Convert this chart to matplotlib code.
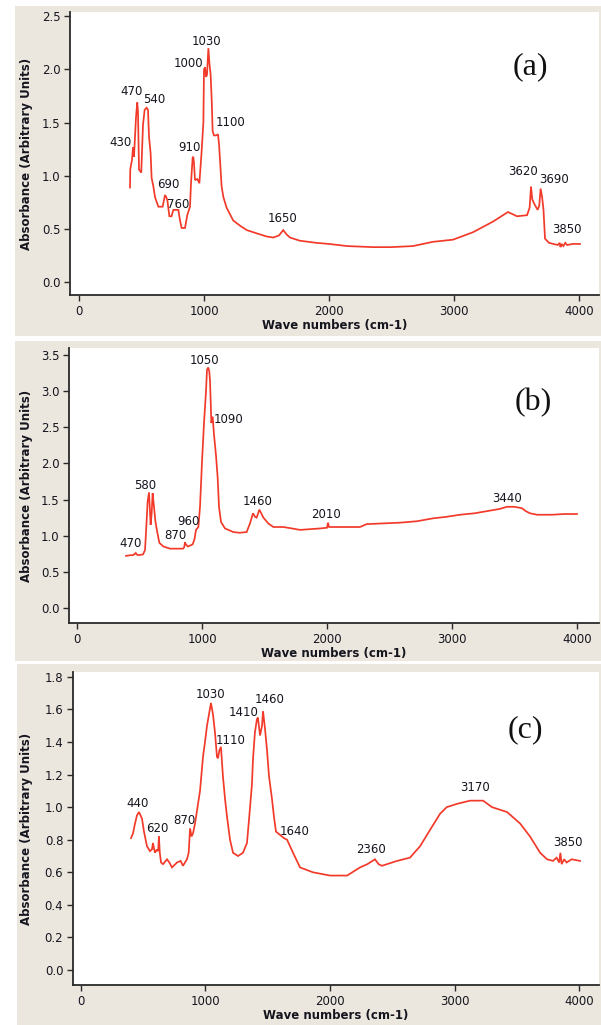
import matplotlib
matplotlib.use("Agg")
import matplotlib.pyplot as plt
from matplotlib.patches import Rectangle

# ---------------- data ----------------
a_wn = [408, 410, 424, 432, 440, 456, 466, 472, 480, 498, 512, 525, 541, 552, 560, 573, 581, 595, 608, 635,
        669, 688, 698, 707, 723, 740, 755, 795, 808, 821, 848, 866, 888, 896, 909, 914, 920, 928, 947, 963,
        981, 995, 1000, 1008, 1016, 1024, 1035, 1044, 1053, 1062, 1069, 1080, 1095, 1112, 1120, 1128, 1141,
        1155, 1181, 1234, 1290, 1342, 1420, 1501, 1554, 1600, 1634, 1660, 1688, 1768, 1900, 2000, 2144, 2352,
        2500, 2672, 2832, 2992, 3152, 3312, 3432, 3504, 3584, 3605, 3616, 3626, 3637, 3650, 3669, 3682, 3693,
        3705, 3716, 3728, 3760, 3795, 3830, 3845, 3852, 3860, 3875, 3890, 3905, 3950, 4008]
a_abs = [0.89, 1.06, 1.15, 1.27, 1.18, 1.55, 1.69, 1.60, 1.06, 1.03, 1.48, 1.62, 1.64, 1.62, 1.37, 1.21, 0.98,
         0.90, 0.80, 0.71, 0.71, 0.82, 0.80, 0.77, 0.62, 0.62, 0.68, 0.68, 0.58, 0.51, 0.51, 0.63, 0.71, 0.93,
         1.17, 1.18, 1.12, 0.96, 0.97, 0.93, 1.23, 1.50, 2.00, 2.02, 1.93, 1.95, 2.20, 2.05, 1.95, 1.70, 1.42,
         1.38, 1.38, 1.39, 1.30, 1.15, 0.90, 0.80, 0.70, 0.58, 0.53, 0.49, 0.46, 0.43, 0.42, 0.44, 0.49, 0.45,
         0.42, 0.39, 0.37, 0.36, 0.34, 0.33, 0.33, 0.34, 0.38, 0.40, 0.47, 0.57, 0.66, 0.62, 0.63, 0.70, 0.90,
         0.78, 0.75, 0.72, 0.68, 0.72, 0.88, 0.80, 0.68, 0.41, 0.37, 0.36, 0.35, 0.37, 0.33, 0.36, 0.34, 0.37,
         0.35, 0.36, 0.36]
a_peaks = ["430", "470", "540", "690", "760", "910", "1000", "1030", "1100", "1650", "3620", "3690", "3850"]
a_lab_x = [328, 424, 600, 712, 792, 880, 872, 1016, 1216, 1632, 3552, 3800, 3904]
a_lab_y = [1.31, 1.79, 1.72, 0.92, 0.73, 1.27, 2.06, 2.26, 1.50, 0.60, 1.04, 0.97, 0.50]

b_wn = [392, 430, 450, 470, 477, 490, 528, 544, 552, 565, 576, 582, 589, 597, 605, 610, 616, 627, 643, 659,
        691, 744, 800, 848, 858, 864, 870, 888, 925, 940, 952, 971, 984, 1000, 1016, 1032, 1040, 1050, 1058,
        1064, 1075, 1085, 1096, 1112, 1125, 1136, 1152, 1184, 1251, 1300, 1357, 1384, 1408, 1425, 1437, 1459,
        1491, 1530, 1571, 1651, 1720, 1784, 1944, 2000, 2008, 2016, 2040, 2150, 2264, 2317, 2450, 2584, 2720,
        2848, 2950, 3064, 3180, 3280, 3380, 3440, 3500, 3560, 3590, 3624, 3680, 3800, 3900, 4000]
b_abs = [0.72, 0.73, 0.73, 0.76, 0.74, 0.73, 0.74, 0.80, 1.04, 1.47, 1.60, 1.40, 1.15, 1.30, 1.59, 1.50, 1.40,
         1.20, 1.04, 0.90, 0.85, 0.82, 0.82, 0.82, 0.84, 0.91, 0.88, 0.85, 0.88, 0.95, 1.08, 1.12, 1.40, 2.02,
         2.56, 3.00, 3.30, 3.33, 3.28, 3.15, 2.56, 2.65, 2.40, 2.11, 1.81, 1.40, 1.19, 1.10, 1.05, 1.04, 1.05,
         1.17, 1.31, 1.26, 1.25, 1.36, 1.25, 1.17, 1.12, 1.12, 1.10, 1.08, 1.10, 1.11, 1.18, 1.12, 1.12, 1.12,
         1.12, 1.16, 1.17, 1.18, 1.20, 1.24, 1.26, 1.29, 1.31, 1.34, 1.37, 1.40, 1.40, 1.38, 1.34, 1.31, 1.29,
         1.29, 1.30, 1.30]
b_peaks = ["470", "580", "870", "960", "1050", "1090", "1460", "2010", "3440"]
b_lab_x = [432, 544, 784, 888, 1016, 1216, 1448, 1992, 3440]
b_lab_y = [0.89, 1.69, 1.00, 1.20, 3.42, 2.61, 1.47, 1.30, 1.52]

c_wn = [402, 418, 434, 450, 466, 490, 506, 530, 554, 570, 578, 594, 610, 620, 626, 633, 643, 659, 691, 710,
        731, 771, 800, 819, 851, 865, 876, 888, 900, 916, 932, 956, 980, 996, 1012, 1028, 1044, 1060, 1076,
        1092, 1100, 1112, 1124, 1140, 1157, 1173, 1197, 1221, 1261, 1301, 1333, 1349, 1373, 1381, 1397, 1413,
        1421, 1438, 1454, 1462, 1478, 1494, 1510, 1534, 1550, 1566, 1598, 1630, 1655, 1703, 1759, 1863, 2000,
        2137, 2241, 2300, 2361, 2390, 2417, 2538, 2642, 2723, 2803, 2884, 2937, 3018, 3125, 3229, 3301, 3422,
        3526, 3606, 3687, 3743, 3790, 3820, 3840, 3850, 3860, 3880, 3900, 3940, 4008]
c_abs = [0.81, 0.84, 0.90, 0.95, 0.97, 0.93, 0.85, 0.76, 0.73, 0.74, 0.78, 0.72, 0.74, 0.73, 0.82, 0.72, 0.66,
         0.65, 0.68, 0.66, 0.63, 0.66, 0.67, 0.64, 0.68, 0.72, 0.87, 0.82, 0.84, 0.90, 0.98, 1.10, 1.31, 1.40,
         1.50, 1.57, 1.64, 1.57, 1.46, 1.31, 1.30, 1.35, 1.37, 1.19, 1.05, 0.94, 0.80, 0.72, 0.70, 0.72, 0.78,
         0.92, 1.14, 1.29, 1.46, 1.54, 1.55, 1.44, 1.50, 1.59, 1.48, 1.35, 1.19, 1.05, 0.94, 0.85, 0.83, 0.81,
         0.80, 0.72, 0.63, 0.60, 0.58, 0.58, 0.63, 0.65, 0.68, 0.65, 0.64, 0.67, 0.69, 0.76, 0.86, 0.96, 1.00,
         1.02, 1.04, 1.04, 1.00, 0.97, 0.90, 0.82, 0.72, 0.68, 0.67, 0.69, 0.66, 0.72, 0.65, 0.68, 0.66, 0.68,
         0.67]
c_peaks = ["440", "620", "870", "1030", "1110", "1410", "1460", "1640", "2360", "3170", "3850"]
c_lab_x = [458, 610, 828, 1044, 1205, 1309, 1518, 1719, 2329, 3165, 3912]
c_lab_y = [1.02, 0.87, 0.92, 1.69, 1.41, 1.58, 1.66, 0.85, 0.74, 1.12, 0.78]

x_ticks = [0, 1000, 2000, 3000, 4000]
a_yticks = [0.0, 0.5, 1.0, 1.5, 2.0, 2.5]
b_yticks = [0.0, 0.5, 1.0, 1.5, 2.0, 2.5, 3.0, 3.5]
c_yticks = [0.0, 0.2, 0.4, 0.6, 0.8, 1.0, 1.2, 1.4, 1.6, 1.8]
panel_names = ["(a)", "(b)", "(c)"]

# ---------------- figure ----------------
W, H = 601, 1025
fig = plt.figure(figsize=(W / 100, H / 100), dpi=100)
fig.patch.set_facecolor("white")

BEIGE = "#ECE7DE"
LINE = "#F23A2A"
TXT = "#15151f"


def px_rect(x0, y0, x1, y1):
    return [x0 / W, 1 - y1 / H, (x1 - x0) / W, (y1 - y0) / H]


# beige panel backgrounds (drawn beneath the axes)
for (x0, y0, x1, y1) in [(15, 6, 601, 336), (15, 341, 601, 661), (17, 664, 601, 1025)]:
    r = px_rect(x0, y0, x1, y1)
    fig.patches.append(Rectangle((r[0], r[1]), r[2], r[3], transform=fig.transFigure,
                                 facecolor=BEIGE, edgecolor="none", zorder=-5))

specs = [
    dict(box=(70, 12, 599, 295), xlim=(-72, 4160), ylim=(-0.12, 2.54), yt=a_yticks,
         wn=a_wn, ab=a_abs, pk=a_peaks, lx=a_lab_x, ly=a_lab_y, letter=(0.87, 0.806)),
    dict(box=(69, 348, 599, 623), xlim=(-64, 4176), ylim=(-0.21, 3.60), yt=b_yticks,
         wn=b_wn, ab=b_abs, pk=b_peaks, lx=b_lab_x, ly=b_lab_y, letter=(0.875, 0.80)),
    dict(box=(73, 672, 599, 985), xlim=(-64, 4160), ylim=(-0.092, 1.83), yt=c_yticks,
         wn=c_wn, ab=c_abs, pk=c_peaks, lx=c_lab_x, ly=c_lab_y, letter=(0.86, 0.815)),
]

for i, s in enumerate(specs):
    x0, y0, x1, y1 = s["box"]
    ax = fig.add_axes(px_rect(*s["box"]))
    ax.set_zorder(1)
    ax.set_facecolor("white")
    ax.plot(s["wn"], s["ab"], color=LINE, lw=1.25, solid_joinstyle="miter")
    for t, x, y in zip(s["pk"], s["lx"], s["ly"]):
        ax.text(x, y, t, ha="center", va="center", fontsize=8.5, color=TXT)
    ax.set_xlim(*s["xlim"])
    ax.set_ylim(*s["ylim"])
    ax.set_xticks(x_ticks)
    ax.set_xticklabels([str(v) for v in x_ticks])
    ax.set_yticks(s["yt"])
    ax.set_yticklabels(["%.1f" % v for v in s["yt"]])
    for sp in ["top", "right"]:
        ax.spines[sp].set_visible(False)
    for sp in ["left", "bottom"]:
        ax.spines[sp].set_color("#2a2a2a")
        ax.spines[sp].set_linewidth(1.3)
    ax.tick_params(direction="out", length=4, width=1, colors="#2a2a2a",
                   labelsize=8.5, labelcolor=TXT, pad=3)
    ax.set_xlabel("Wave numbers (cm-1)", fontsize=8.5, fontweight="bold", color=TXT)
    ax.set_ylabel("Absorbance (Arbitrary Units)", fontsize=8.5, fontweight="bold", color=TXT)
    h = y1 - y0
    w = x1 - x0
    ax.xaxis.label.set_va("center")
    ax.xaxis.set_label_coords(0.5, -30.5 / h)
    ax.yaxis.label.set_va("center")
    ax.yaxis.set_label_coords(-(x0 - 27) / w, 0.5)
    ax.text(s["letter"][0], s["letter"][1], panel_names[i], transform=ax.transAxes,
            ha="center", va="center", fontsize=23, family="Liberation Serif", color="#111111")

fig.savefig("out.png", dpi=100, facecolor=fig.get_facecolor())
